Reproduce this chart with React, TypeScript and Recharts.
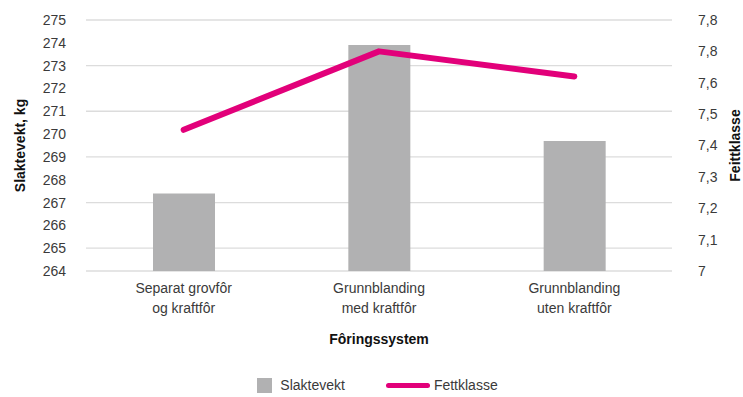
import {
  ComposedChart,
  Bar,
  Line,
  XAxis,
  YAxis,
  CartesianGrid,
  Legend,
} from "recharts";

const categories = [
  "Separat grovfôr|og kraftfôr",
  "Grunnblanding|med kraftfôr",
  "Grunnblanding|uten kraftfôr",
];
const slaktevekt = [267.4, 273.9, 269.7];
const fettklasse = [7.45, 7.7, 7.62];

const leftTicks = [264, 265, 266, 267, 268, 269, 270, 271, 272, 273, 274, 275];
const rightTicks = [7, 7.1, 7.2, 7.3, 7.4, 7.5, 7.6, 7.7, 7.8];
// the original labels the two top ticks both as "7,8"
const rightTickLabels = ["7", "7,1", "7,2", "7,3", "7,4", "7,5", "7,6", "7,8", "7,8"];

const BAR_COLOR = "#b1b1b2";
const LINE_COLOR = "#e2007a";
const TEXT_COLOR = "#3a3a3a";
const FONT = "'Liberation Sans', Arial, sans-serif";

const data = categories.map((name, i) => ({
  name,
  slaktevekt: slaktevekt[i],
  fettklasse: fettklasse[i],
}));

const CategoryTick = (props: any) => {
  const { x, y, payload } = props;
  const [first, second] = String(payload.value).split("|");
  return (
    <g transform={`translate(${x},${y})`}>
      <text textAnchor="middle" fill={TEXT_COLOR} fontSize={14}>
        <tspan x={0} dy={14}>
          {first}
        </tspan>
        <tspan x={0} dy={19.5}>
          {second}
        </tspan>
      </text>
    </g>
  );
};

const RightAxisLabel = (props: any) => {
  const { viewBox } = props;
  const cx = viewBox.x + viewBox.width - 8;
  const cy = viewBox.y + viewBox.height / 2;
  return (
    <text
      x={cx}
      y={cy}
      transform={`rotate(-90, ${cx}, ${cy})`}
      textAnchor="middle"
      dominantBaseline="central"
      fontSize={14}
      fontWeight="bold"
      fill="#111"
    >
      Feittklasse
    </text>
  );
};

const LegendContent = () => (
  <div
    style={{
      display: "flex",
      justifyContent: "center",
      alignItems: "center",
      fontSize: 14,
      color: TEXT_COLOR,
      paddingLeft: 12,
      height: 20,
    }}
  >
    <span style={{ width: 15, height: 15, background: BAR_COLOR, marginRight: 8 }} />
    <span>Slaktevekt</span>
    <span
      style={{
        width: 44,
        height: 5,
        borderRadius: 3,
        background: LINE_COLOR,
        marginLeft: 41,
        marginRight: 4,
      }}
    />
    <span>Fettklasse</span>
  </div>
);

export default function App() {
  return (
    <div style={{ fontFamily: FONT }}>
      <style>{`body { margin: 0; }`}</style>
      <ComposedChart
        width={743}
        height={397}
        data={data}
        margin={{ top: 20, right: 0, left: 0, bottom: 2 }}
        barCategoryGap="34%"
      >
        <CartesianGrid
          yAxisId="left"
          vertical={false}
          stroke="#dcdcdc"
          strokeWidth={1.3}
        />
        <XAxis
          dataKey="name"
          height={104}
          axisLine={false}
          tickLine={false}
          tick={<CategoryTick />}
          interval={0}
          label={{
            value: "Fôringssystem",
            position: "insideBottom",
            offset: 31,
            fontSize: 14,
            fontWeight: "bold",
            fill: "#111",
          }}
        />
        <YAxis
          yAxisId="left"
          width={86}
          domain={[264, 275]}
          ticks={leftTicks}
          axisLine={false}
          tickLine={false}
          tickMargin={14}
          tick={{ fontSize: 14, fill: TEXT_COLOR }}
          label={{
            value: "Slaktevekt, kg",
            angle: -90,
            position: "insideLeft",
            offset: 20,
            textAnchor: "middle",
            fontSize: 14,
            fontWeight: "bold",
            fill: "#111",
          }}
        />
        <YAxis
          yAxisId="right"
          orientation="right"
          width={71}
          domain={[7, 7.8]}
          ticks={rightTicks}
          axisLine={false}
          tickLine={false}
          tickMargin={20}
          tickFormatter={(_v: number, i: number) => rightTickLabels[i]}
          tick={{ fontSize: 14, fill: TEXT_COLOR, textAnchor: "start" }}
          label={<RightAxisLabel />}
        />
        <Bar
          yAxisId="left"
          dataKey="slaktevekt"
          name="Slaktevekt"
          fill={BAR_COLOR}
          barSize={62}
          isAnimationActive={false}
        />
        <Line
          yAxisId="right"
          type="linear"
          dataKey="fettklasse"
          name="Fettklasse"
          stroke={LINE_COLOR}
          strokeWidth={6}
          strokeLinecap="round"
          strokeLinejoin="round"
          dot={false}
          activeDot={false}
          isAnimationActive={false}
        />
        <Legend verticalAlign="bottom" height={20} content={<LegendContent />} />
      </ComposedChart>
    </div>
  );
}
